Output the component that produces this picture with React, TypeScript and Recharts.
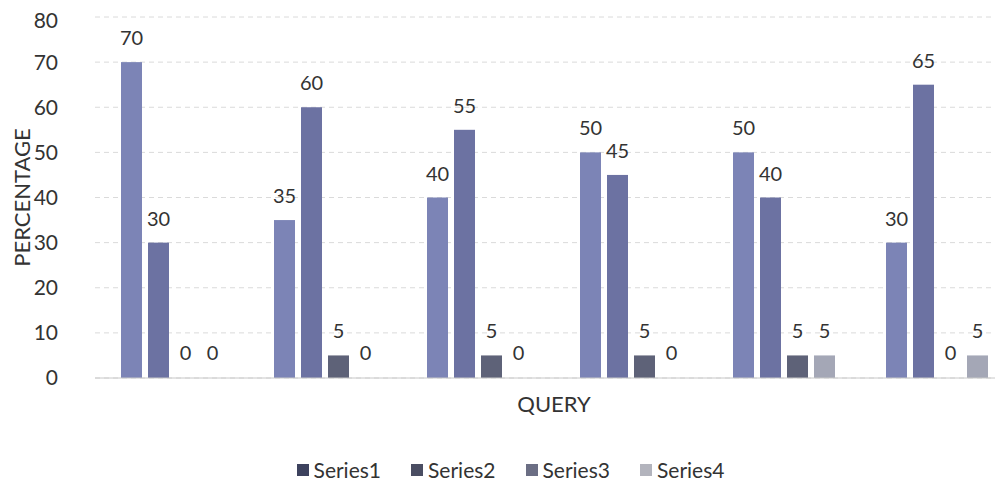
import React from "react";
import { BarChart, Bar, XAxis, YAxis, CartesianGrid, Legend, LabelList } from "recharts";

const categories = ["1", "2", "3", "4", "5", "6"];
const series1 = [70, 35, 40, 50, 50, 30];
const series2 = [30, 60, 55, 45, 40, 65];
const series3 = [0, 5, 5, 5, 5, 0];
const series4 = [0, 0, 0, 0, 5, 5];
const yTicks = [0, 10, 20, 30, 40, 50, 60, 70, 80];
const seriesNames = ["Series1", "Series2", "Series3", "Series4"];
const colors = ["#7c84b6", "#6c72a2", "#5e6278", "#a4a7b6"];
const legendColors = ["#3d425e", "#4a4d62", "#6b6e84", "#b3b4bd"];

const data = categories.map((c, i) => ({
  name: c,
  Series1: series1[i],
  Series2: series2[i],
  Series3: series3[i],
  Series4: series4[i],
}));

const FONT = "Lato, 'Open Sans', sans-serif";

const renderLegend = () => (
  <div style={{ display: "flex", justifyContent: "center", gap: 30, fontFamily: FONT, fontSize: 21, color: "#333" }}>
    {seriesNames.map((s, i) => (
      <div key={s} style={{ display: "flex", alignItems: "center" }}>
        <span style={{ display: "inline-block", width: 12, height: 12, background: legendColors[i], marginRight: 5 }} />
        <span>{s}</span>
      </div>
    ))}
  </div>
);

const BarShape = (props: any) => {
  const { x, y, width, height, fill, value } = props;
  const v = Array.isArray(value) ? value[1] - value[0] : value;
  if (!v) return null;
  return <rect x={x} y={y} width={width} height={height} fill={fill} />;
};

export default function App() {
  return (
    <div style={{ width: 995, height: 479, overflow: "hidden", background: "#fff" }}>
      <BarChart
        width={1005}
        height={479}
        data={data}
        margin={{ top: 9, right: 0, bottom: 0, left: 0 }}
        barCategoryGap={25}
        barGap={6}
      >
        <CartesianGrid vertical={false} stroke="#dadada" strokeDasharray="5 4" />
        <XAxis
          dataKey="name"
          tick={false}
          tickLine={false}
          axisLine={{ stroke: "#c8c8c8" }}
          height={76}
          label={({ viewBox }: any) => (
            <text
              x={viewBox.x + viewBox.width / 2}
              y={viewBox.y + 34}
              textAnchor="middle"
              fontFamily={FONT}
              fontSize={22}
              fill="#333"
            >
              QUERY
            </text>
          )}
        />
        <YAxis
          width={87}
          domain={[0, 80]}
          ticks={yTicks}
          tickLine={false}
          axisLine={false}
          tickSize={0}
          tickMargin={37}
          tick={{ fontFamily: FONT, fontSize: 21, fill: "#333" }}
          label={({ viewBox }: any) => (
            <text
              x={16}
              y={viewBox.y + viewBox.height / 2}
              textAnchor="middle"
              dominantBaseline="middle"
              transform={`rotate(-90 16 ${viewBox.y + viewBox.height / 2})`}
              fontFamily={FONT}
              fontSize={22}
              fill="#333"
            >
              PERCENTAGE
            </text>
          )}
        />
        <Legend verticalAlign="bottom" height={33} content={renderLegend} wrapperStyle={{ bottom: -3, left: 0 }} />
        {seriesNames.map((s, i) => (
          <Bar key={s} dataKey={s} fill={colors[i]} barSize={21} minPointSize={1} shape={BarShape} isAnimationActive={false}>
            <LabelList dataKey={s} position="top" offset={17} style={{ fontFamily: FONT, fontSize: 20, fill: "#333" }} />
          </Bar>
        ))}
      </BarChart>
    </div>
  );
}
